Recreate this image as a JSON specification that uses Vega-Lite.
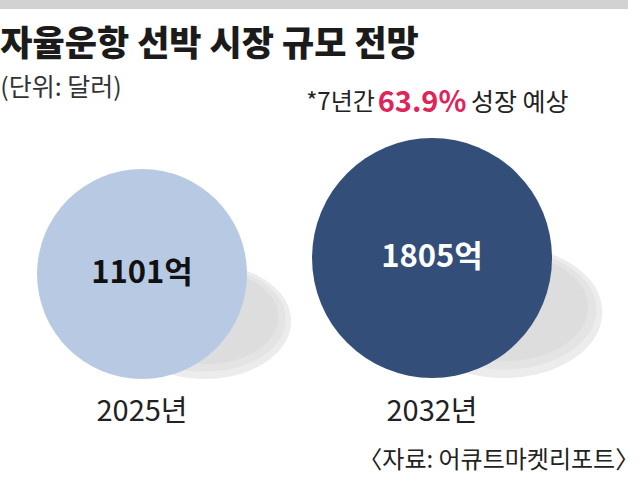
{
  "$schema": "https://vega.github.io/schema/vega-lite/v6.json",
  "width": 640,
  "height": 481,
  "autosize": {"type": "fit", "contains": "padding"},
  "padding": 0,
  "background": "white",
  "config": {"view": {"stroke": null}, "text": {"font": "Noto Sans CJK KR"}},
  "data": {
    "values": [
      {"year": 2025, "value": 1101, "valueLabel": "1101억", "yearLabel": "2025년"},
      {"year": 2032, "value": 1805, "valueLabel": "1805억", "yearLabel": "2032년"}
    ]
  },
  "resolve": {"scale": {"y": "independent"}},
  "layer": [
    {
      "encoding": {
        "x": {"field": "year", "type": "quantitative", "scale": {"domain": [2021.572, 2037.02], "nice": false, "zero": false}, "axis": null},
        "y": {"field": "value", "type": "quantitative", "scale": {"domain": [-8007, 13157], "nice": false, "zero": false}, "axis": null}
      },
      "layer": [
        {
          "mark": {"type": "point", "shape": "M-0.22,0.45A0.82,0.55 0 1,0 1.42,0.45A0.82,0.55 0 1,0 -0.22,0.45Z", "filled": true, "color": "#ececec", "opacity": 1, "strokeWidth": 0},
          "encoding": {"size": {"field": "value", "type": "quantitative", "scale": {"domain": [1101, 1805], "range": [44100, 57600], "zero": false}, "legend": null}}
        },
        {
          "mark": {"type": "point", "shape": "M-0.17,0.43A0.77,0.5 0 1,0 1.37,0.43A0.77,0.5 0 1,0 -0.17,0.43Z", "filled": true, "color": "#e4e4e4", "opacity": 1, "strokeWidth": 0},
          "encoding": {"size": {"field": "value", "type": "quantitative", "scale": {"domain": [1101, 1805], "range": [44100, 57600], "zero": false}, "legend": null}}
        },
        {
          "mark": {"type": "point", "shape": "M-0.1,0.41A0.7,0.45 0 1,0 1.3,0.41A0.7,0.45 0 1,0 -0.1,0.41Z", "filled": true, "color": "#dddddd", "opacity": 1, "strokeWidth": 0},
          "encoding": {"size": {"field": "value", "type": "quantitative", "scale": {"domain": [1101, 1805], "range": [44100, 57600], "zero": false}, "legend": null}}
        },
        {
          "mark": {"type": "point", "shape": "circle", "filled": true, "opacity": 1, "strokeWidth": 0},
          "encoding": {
            "size": {"field": "value", "type": "quantitative", "scale": {"domain": [1101, 1805], "range": [44100, 57600], "zero": false}, "legend": null},
            "color": {"condition": {"test": "datum.year === 2032", "value": "#334f79"}, "value": "#b8cae3"}
          }
        },
        {
          "mark": {"type": "text", "fontSize": 31, "fontWeight": "bold", "align": "center", "baseline": "middle"},
          "encoding": {
            "text": {"field": "valueLabel"},
            "color": {"condition": {"test": "datum.year === 2032", "value": "#ffffff"}, "value": "#111111"}
          }
        }
      ]
    },
    {
      "layer": [
        {
          "mark": {"type": "text", "fontSize": 29, "color": "#222222", "align": "center", "baseline": "middle"},
          "encoding": {
            "x": {"field": "year", "type": "quantitative", "scale": {"domain": [2021.572, 2037.02], "nice": false, "zero": false}, "axis": null},
            "y": {"datum": 14.35, "type": "quantitative", "scale": {"domain": [0, 100], "nice": false, "zero": false}, "axis": null},
            "text": {"field": "yearLabel"}
          }
        },
        {
          "data": {"values": [{}]},
          "mark": {"type": "rect", "color": "#d2d2d2"},
          "encoding": {
            "x": {"datum": 2021.572, "type": "quantitative", "scale": {"domain": [2021.572, 2037.02], "nice": false, "zero": false}, "axis": null},
            "x2": {"datum": 2036.73},
            "y": {"datum": 100, "type": "quantitative", "scale": {"domain": [0, 100], "nice": false, "zero": false}, "axis": null},
            "y2": {"datum": 98.13}
          }
        },
        {
          "data": {"values": [{}]},
          "mark": {"type": "text", "text": "자율운항 선박 시장 규모 전망", "fontSize": 35, "fontWeight": 900, "color": "#1b1b1b", "align": "left", "baseline": "middle"},
          "encoding": {
            "x": {"datum": 2021.58, "type": "quantitative", "scale": {"domain": [2021.572, 2037.02], "nice": false, "zero": false}, "axis": null},
            "y": {"datum": 90.64, "type": "quantitative", "scale": {"domain": [0, 100], "nice": false, "zero": false}, "axis": null}
          }
        },
        {
          "data": {"values": [{}]},
          "mark": {"type": "text", "text": "(단위: 달러)", "fontSize": 25, "color": "#333333", "align": "left", "baseline": "middle"},
          "encoding": {
            "x": {"datum": 2021.58, "type": "quantitative", "scale": {"domain": [2021.572, 2037.02], "nice": false, "zero": false}, "axis": null},
            "y": {"datum": 81.7, "type": "quantitative", "scale": {"domain": [0, 100], "nice": false, "zero": false}, "axis": null}
          }
        },
        {
          "data": {"values": [{}]},
          "mark": {"type": "text", "text": "*7년간", "fontSize": 24, "color": "#222222", "align": "right", "baseline": "middle"},
          "encoding": {
            "x": {"datum": 2030.62, "type": "quantitative", "scale": {"domain": [2021.572, 2037.02], "nice": false, "zero": false}, "axis": null},
            "y": {"datum": 78.59, "type": "quantitative", "scale": {"domain": [0, 100], "nice": false, "zero": false}, "axis": null}
          }
        },
        {
          "data": {"values": [{}]},
          "mark": {"type": "text", "text": "63.9%", "fontSize": 29, "fontWeight": "bold", "color": "#e0245a", "align": "center", "baseline": "middle"},
          "encoding": {
            "x": {"datum": 2031.758, "type": "quantitative", "scale": {"domain": [2021.572, 2037.02], "nice": false, "zero": false}, "axis": null},
            "y": {"datum": 78.59, "type": "quantitative", "scale": {"domain": [0, 100], "nice": false, "zero": false}, "axis": null}
          }
        },
        {
          "data": {"values": [{}]},
          "mark": {"type": "text", "text": "성장 예상", "fontSize": 25, "color": "#222222", "align": "left", "baseline": "middle"},
          "encoding": {
            "x": {"datum": 2032.94, "type": "quantitative", "scale": {"domain": [2021.572, 2037.02], "nice": false, "zero": false}, "axis": null},
            "y": {"datum": 78.59, "type": "quantitative", "scale": {"domain": [0, 100], "nice": false, "zero": false}, "axis": null}
          }
        },
        {
          "data": {"values": [{}]},
          "mark": {"type": "text", "text": "〈자료: 어큐트마켓리포트〉", "fontSize": 24, "color": "#222222", "align": "right", "baseline": "middle"},
          "encoding": {
            "x": {"datum": 2037.0, "type": "quantitative", "scale": {"domain": [2021.572, 2037.02], "nice": false, "zero": false}, "axis": null},
            "y": {"datum": 4.16, "type": "quantitative", "scale": {"domain": [0, 100], "nice": false, "zero": false}, "axis": null}
          }
        }
      ]
    }
  ]
}
